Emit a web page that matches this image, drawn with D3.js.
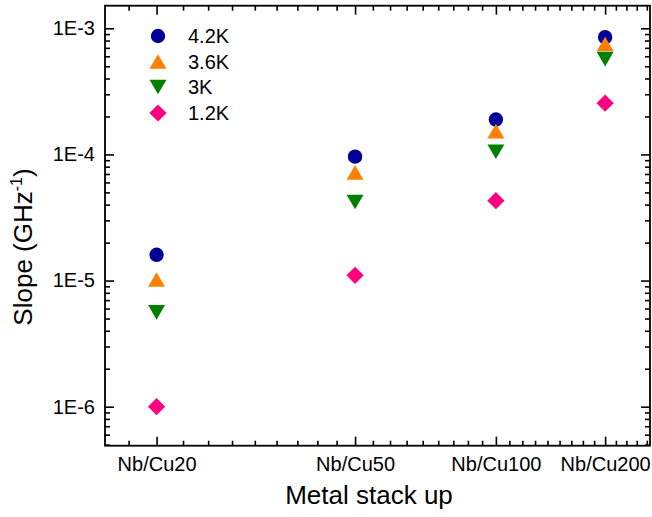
<!DOCTYPE html>
<html><head><meta charset="utf-8">
<script src="https://cdn.jsdelivr.net/npm/d3@7"></script>
<style>body{margin:0;background:#fff}</style>
</head><body>
<svg id="c" width="652" height="517"></svg>
<script>
const categories = ["Nb/Cu20","Nb/Cu50","Nb/Cu100","Nb/Cu200"];
const categoryPos = [2, 3, 4, 5];
const seriesNames = ["4.2K","3.6K","3K","1.2K"];
const s42 = [1.6e-5, 9.6e-5, 1.89e-4, 8.5e-4];
const s36 = [1.02e-5, 7.2e-5, 1.53e-4, 7.5e-4];
const s3  = [5.6e-6, 4.2e-5, 1.05e-4, 5.7e-4];
const s12 = [1.0e-6, 1.1e-5, 4.3e-5, 2.55e-4];
const yTickValues = [1e-6, 1e-5, 1e-4, 1e-3];
const yTickLabels = ["1E-6","1E-5","1E-4","1E-3"];

const FONT = "Arial, 'Liberation Sans', sans-serif";
const svg = d3.select("#c");
const L = 105, R = 650, T = 5.7, B = 445.7;

const x = d3.scaleLog().domain([1.8, 5.48]).range([L, R]);
const y = d3.scaleLog().domain([4.906e-7, 1.511e-3]).range([B, T]);

// minor ticks
const xMinor = [];
for (let k = 1; k <= 5; k++) for (let j = 1; j <= 8; j++) {
  const v = k + j / 9;
  if (v > x.domain()[0] && v < x.domain()[1]) xMinor.push(v);
}
const yMinor = [];
for (let e = -7; e <= -3; e++) for (let m = 2; m <= 9; m++) {
  const v = m * Math.pow(10, e);
  if (v > y.domain()[0] && v < y.domain()[1]) yMinor.push(v);
}

function styleAxis(g) {
  g.select(".domain").remove();
  g.selectAll(".tick line").attr("stroke", "#000").attr("stroke-width", 1.6);
  g.selectAll(".tick text").attr("font-family", FONT).attr("font-size", 20).attr("fill", "#000");
}

// bottom
svg.append("g").attr("transform", `translate(0,${B})`)
  .call(d3.axisBottom(x).tickValues(xMinor).tickSize(-5).tickFormat(""))
  .call(styleAxis);
svg.append("g").attr("transform", `translate(0,${B})`)
  .call(d3.axisBottom(x).tickValues(categoryPos).tickSize(-9).tickPadding(11)
    .tickFormat((d, i) => categories[i]))
  .call(styleAxis);
// top
svg.append("g").attr("transform", `translate(0,${T})`)
  .call(d3.axisTop(x).tickValues(xMinor).tickSize(-5).tickFormat(""))
  .call(styleAxis);
svg.append("g").attr("transform", `translate(0,${T})`)
  .call(d3.axisTop(x).tickValues(categoryPos).tickSize(-9).tickFormat(""))
  .call(styleAxis);
// left
svg.append("g").attr("transform", `translate(${L},0)`)
  .call(d3.axisLeft(y).tickValues(yMinor).tickSize(-5).tickFormat(""))
  .call(styleAxis);
svg.append("g").attr("transform", `translate(${L},0)`)
  .call(d3.axisLeft(y).tickValues(yTickValues).tickSize(-9).tickPadding(10)
    .tickFormat((d, i) => yTickLabels[i]))
  .call(styleAxis);
// right
svg.append("g").attr("transform", `translate(${R},0)`)
  .call(d3.axisRight(y).tickValues(yMinor).tickSize(-5).tickFormat(""))
  .call(styleAxis);
svg.append("g").attr("transform", `translate(${R},0)`)
  .call(d3.axisRight(y).tickValues(yTickValues).tickSize(-9).tickFormat(""))
  .call(styleAxis);

// frame
svg.append("rect").attr("x", L).attr("y", T).attr("width", R - L).attr("height", B - T)
  .attr("fill", "none").attr("stroke", "#000").attr("stroke-width", 1.8);

// markers
const shapes = [
  d3.symbol(d3.symbolCircle, Math.PI * 7.2 * 7.2)(),
  "M0,-7.3L8.5,7.3L-8.5,7.3Z",
  "M0,7.3L8.5,-7.3L-8.5,-7.3Z",
  "M0,-8.6L8.6,0L0,8.6L-8.6,0Z"
];
const colors = ["#000096", "#FF8000", "#008000", "#FF0080"];
const allSeries = [s42, s36, s3, s12];

allSeries.forEach((vals, si) => {
  svg.append("g").selectAll("path").data(vals).join("path")
    .attr("d", shapes[si])
    .attr("fill", colors[si])
    .attr("transform", (d, i) => `translate(${x(categoryPos[i])},${y(d)})`);
});

// legend
const legY = [36, 61.5, 87, 113];
seriesNames.forEach((name, si) => {
  svg.append("path").attr("d", shapes[si]).attr("fill", colors[si])
    .attr("transform", `translate(158,${legY[si]})`);
  svg.append("text").attr("x", 188).attr("y", legY[si]).attr("dy", "0.36em")
    .attr("font-family", FONT).attr("font-size", 20).text(name);
});

// axis titles
svg.append("text").attr("x", 369).attr("y", 504).attr("text-anchor", "middle")
  .attr("font-family", FONT).attr("font-size", 26).text("Metal stack up");

const yt = svg.append("text").attr("transform", "translate(32,247) rotate(-90)")
  .attr("text-anchor", "middle").attr("font-family", FONT).attr("font-size", 26);
yt.append("tspan").text("Slope (GHz");
yt.append("tspan").attr("font-size", 16).attr("dy", -10).text("-1");
yt.append("tspan").attr("dy", 10).text(")");
</script>
</body></html>
